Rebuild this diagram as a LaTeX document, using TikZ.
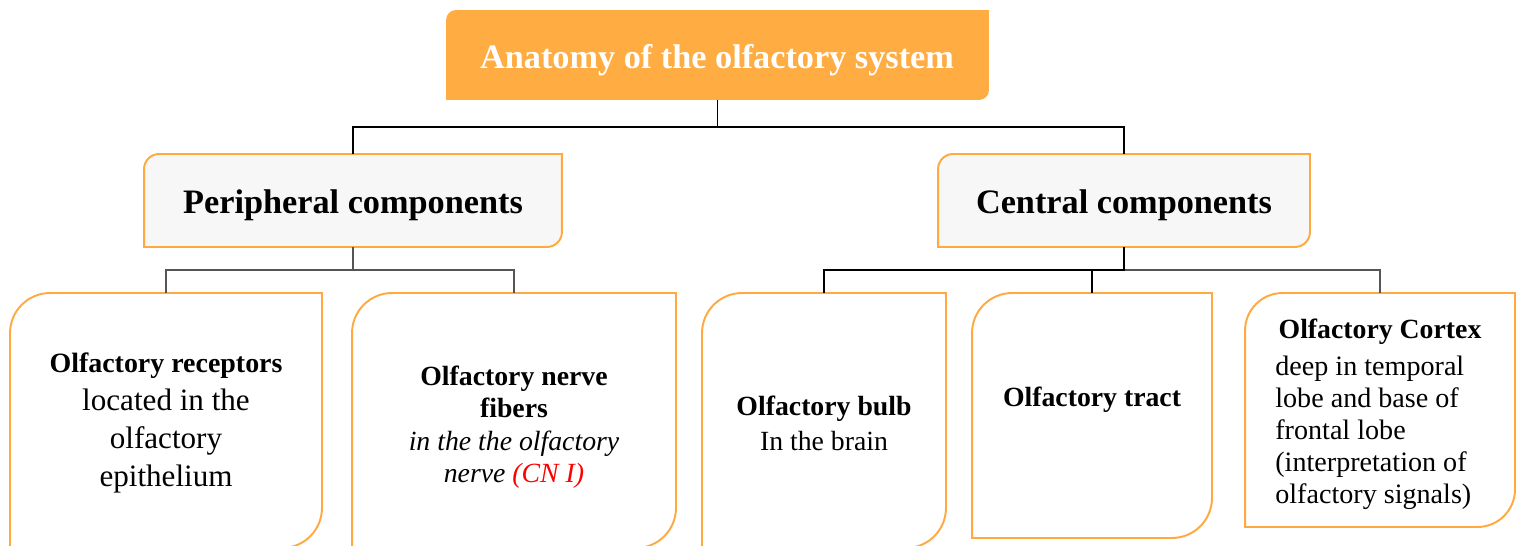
\documentclass[tikz,border=0pt]{standalone}
\usepackage{fontspec}
\setmainfont{Liberation Serif}
\definecolor{leaforange}{HTML}{FFAC42}
\definecolor{leafline}{HTML}{FFA940}
\definecolor{leafgrey}{HTML}{F7F7F7}
\definecolor{linkgrey}{HTML}{555555}
% leaf shape: top-left and bottom-right corners rounded
\newcommand{\leafpath}[3][]{%
  \path[#1] ([yshift=-#3]#2.north west) arc[start angle=180, end angle=90, radius=#3]
    -- (#2.north east) -- ([yshift=#3]#2.south east)
    arc[start angle=0, end angle=-90, radius=#3] -- (#2.south west) -- cycle;}
\newcommand{\sizebig}{\fontsize{19.5}{23}\selectfont}
\newcommand{\sizemid}{\fontsize{15.8}{18.5}\selectfont}

\begin{document}
\begin{tikzpicture}[
  x=0.02cm, y=-0.02cm,
  boxnode/.style={inner sep=0pt, outer sep=0pt},
  leaf/.style={draw=leafline, line width=1.1pt, fill=white},
  link/.style={line width=1pt},
  greylink/.style={line width=1pt, draw=linkgrey},
  label/.style={align=center, inner sep=0pt}
]
  \useasboundingbox (0,0) rectangle (1521,545);
  \clip (0,0) rectangle (1521,545);

  % Kasten
  \node[boxnode, minimum width=10.86cm, minimum height=1.8cm] (title) at (717.5,55) {};
  \node[boxnode, minimum width=8.36cm, minimum height=1.86cm] (periph) at (353,200.5) {};
  \node[boxnode, minimum width=7.44cm, minimum height=1.86cm] (central) at (1124,200.5) {};
  \node[boxnode, minimum width=6.24cm, minimum height=5.1cm] (recep) at (166,420.5) {};
  \node[boxnode, minimum width=6.48cm, minimum height=5.1cm] (nerve) at (514,420.5) {};
  \node[boxnode, minimum width=4.88cm, minimum height=5.1cm] (bulb) at (824,420.5) {};
  \node[boxnode, minimum width=4.8cm, minimum height=4.9cm] (tract) at (1092,415.5) {};
  \node[boxnode, minimum width=5.4cm, minimum height=4.68cm] (cortex) at (1380,410) {};

  \leafpath[fill=leaforange]{title}{0.2cm}
  \leafpath[leaf, fill=leafgrey]{periph}{0.3cm}
  \leafpath[leaf, fill=leafgrey]{central}{0.3cm}
  \leafpath[leaf]{recep}{0.8cm}
  \leafpath[leaf]{nerve}{0.8cm}
  \leafpath[leaf]{bulb}{0.8cm}
  \leafpath[leaf]{tract}{0.8cm}
  \leafpath[leaf]{cortex}{0.75cm}

  % Verbindungen
  \draw[link] (title.south) -- ++(0,27) -| (periph.north);
  \draw[link] (title.south) -- ++(0,27) -| (central.north);
  \draw[greylink] (periph.south) -- ++(0,23) -| (recep.north);
  \draw[greylink] (periph.south) -- ++(0,23) -| (nerve.north);
  \draw[greylink] (central.south) -- ++(0,23) -| (cortex.north);
  \draw[link] (central.south) -- ++(0,23) -| (bulb.north);
  \draw[link] (central.south) -- ++(0,23) -| (tract.north);

  % Texte
  \node[label, text=white, font=\sizebig\bfseries] (titletxt) at (717,60) {Anatomy of the olfactory system};
  \node[label, font=\sizebig\bfseries] (periphtxt) at (353,205) {Peripheral components};
  \node[label, font=\sizebig\bfseries] (centraltxt) at (1124,205) {Central components};
  \node[label, font=\fontsize{17.7}{21.5}\selectfont] (receptxt) at (166,423)
    {{\fontsize{15.9}{21.5}\selectfont\bfseries Olfactory receptors}\\located in the\\olfactory\\epithelium};
  \node[label, font=\sizemid] (nervetxt) at (514,427)
    {\textbf{Olfactory nerve}\\\textbf{fibers}\\\textit{in the the olfactory}\\\textit{nerve \textcolor{red}{(CN I)}}};
  \node[label, font=\sizemid] (bulbtxt) at (824,423)
    {\textbf{Olfactory bulb}\\[1.5pt]In the brain};
  \node[label, font=\sizemid\bfseries] (tracttxt) at (1092,400) {Olfactory tract};
  \node[label, font=\sizemid\bfseries] (cortextxt) at (1380,332) {Olfactory Cortex};
  \node[label, align=left, anchor=west, font=\fontsize{16}{18.2}\selectfont] (cortexbody) at (1275,433)
    {deep in temporal\\lobe and base of\\frontal lobe\\(interpretation of\\olfactory signals)};
\end{tikzpicture}
\end{document}
